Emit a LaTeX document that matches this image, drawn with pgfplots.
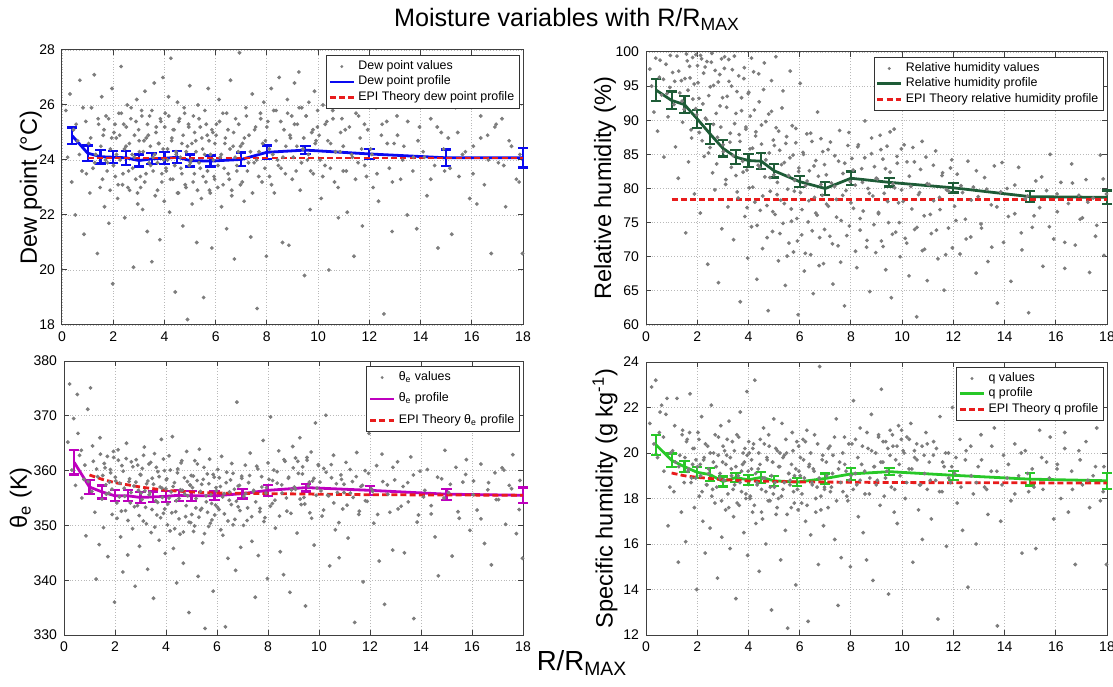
\documentclass[border=0pt]{standalone}
\usepackage{fontspec}
\setmainfont{Liberation Sans}
\usepackage{pgfplots}
\usepackage{pgfplotstable}
\pgfplotsset{compat=1.18}

\definecolor{dotgray}{RGB}{125,125,125}
\definecolor{dewblue}{RGB}{10,10,240}
\definecolor{rhgreen}{RGB}{30,92,55}
\definecolor{temag}{RGB}{190,0,190}
\definecolor{qgreen}{RGB}{40,200,40}
\definecolor{epired}{RGB}{232,28,28}

% scattered observations: x = R/Rmax, dew point, RH, theta_e, q
\pgfplotstableread{
x td rh te q
0.15 25.8 97.5 365.2 21.3
0.22 24.1 95.0 375.8 22.9
0.31 26.4 91.2 360.1 20.4
0.38 23.2 99.1 369.5 23.2
0.45 25.1 88.4 357.3 19.8
0.52 22.0 96.3 373.9 20.9
0.61 24.7 93.7 362.8 22.1
0.70 26.9 84.6 355.0 19.2
0.78 23.6 98.2 358.4 21.7
0.86 21.3 90.5 348.1 16.8
0.93 25.4 94.8 371.2 18.5
1.04 24.6 97.0 375.1 20.1
1.09 22.8 92.3 356.2 18.3
1.15 25.9 86.1 361.7 19.6
1.21 23.7 99.4 352.4 22.4
1.26 27.1 81.5 340.2 15.2
1.32 24.2 94.0 358.9 19.9
1.38 20.6 95.8 346.5 17.4
1.43 25.3 89.7 363.0 21.0
1.49 23.0 91.6 354.8 18.7
1.55 26.3 73.5 349.6 16.1
1.61 24.9 98.7 360.5 20.6
1.66 22.3 83.9 355.7 19.3
1.72 25.6 96.2 344.3 22.6
1.78 23.9 87.4 357.9 18.9
1.83 21.7 93.1 359.6 20.2
1.89 24.4 79.2 352.0 17.6
1.95 26.6 99.6 362.4 19.7
1.98 19.5 90.8 336.0 14.0
2.03 25.0 95.5 358.1 20.9
2.08 23.4 88.2 351.3 18.1
2.12 24.8 76.4 363.8 19.5
2.17 22.6 99.0 355.2 21.6
2.22 25.7 92.4 347.9 17.0
2.27 24.0 84.7 360.9 19.8
2.31 27.4 97.8 341.5 15.6
2.36 23.1 90.1 356.8 18.6
2.41 25.3 68.9 352.7 20.3
2.45 21.9 93.6 365.0 19.1
2.50 24.5 86.0 344.6 16.7
2.55 26.0 98.5 358.0 22.1
2.60 23.6 82.3 354.1 18.4
2.64 22.9 95.1 361.6 20.0
2.69 25.5 79.8 349.4 17.8
2.74 24.2 91.0 357.2 19.4
2.79 20.1 87.5 338.9 14.5
2.83 24.9 66.2 362.0 20.7
2.88 23.3 96.7 353.6 18.9
2.92 26.2 89.0 356.4 21.2
2.96 22.4 74.1 346.2 16.3
2.99 25.1 93.3 359.3 19.6
3.02 24.3 85.4 355.9 18.8
3.07 23.0 99.3 360.4 20.1
3.11 25.8 80.6 350.8 17.5
3.15 22.2 91.9 364.3 19.9
3.20 24.7 77.3 353.3 18.2
3.24 26.5 95.7 357.6 21.4
3.28 23.5 86.8 342.0 15.8
3.33 21.4 83.1 361.2 19.3
3.37 24.9 97.4 356.0 20.5
3.42 25.6 72.5 348.7 17.2
3.46 23.8 89.5 358.6 18.6
3.51 20.3 81.9 336.7 13.6
3.55 24.1 94.2 363.1 20.8
3.60 26.8 78.6 354.5 19.0
3.64 22.7 87.9 351.9 17.7
3.68 25.2 63.4 359.8 21.8
3.73 23.9 91.4 347.3 18.3
3.77 24.6 84.0 357.0 19.5
3.82 21.1 96.1 365.7 16.5
3.86 25.4 75.9 355.1 20.2
3.90 23.2 88.7 352.2 18.0
3.94 27.0 82.7 360.0 22.7
3.97 24.0 69.8 344.9 15.5
3.99 22.5 93.9 356.7 19.2
4.03 25.7 80.1 358.5 20.0
4.07 23.6 90.6 353.9 18.1
4.12 24.4 74.4 362.7 19.7
4.16 26.3 85.9 349.0 17.4
4.20 22.1 97.1 356.1 20.4
4.25 27.7 78.0 366.2 23.2
4.29 24.8 88.3 345.8 16.9
4.33 23.3 66.7 357.8 18.7
4.38 25.1 83.4 352.5 19.3
4.42 19.2 92.7 339.5 14.8
4.46 24.2 76.8 360.3 20.6
4.51 26.1 86.5 354.9 18.4
4.55 22.8 71.2 348.4 17.1
4.59 25.5 94.5 361.4 21.1
4.64 23.7 81.7 356.4 18.9
4.68 24.6 89.8 343.1 16.0
4.72 21.6 77.5 358.7 19.8
4.77 25.9 62.1 351.6 17.9
4.81 23.1 85.2 363.5 20.3
4.85 24.3 79.6 355.4 18.5
4.90 18.2 91.3 334.1 13.1
4.94 25.3 73.7 357.4 19.6
4.97 23.8 87.1 350.5 18.2
4.99 26.7 82.0 359.1 21.5
5.04 24.0 76.2 356.9 18.7
5.08 22.4 88.9 348.9 17.3
5.13 25.6 80.9 361.8 20.1
5.17 23.5 69.4 353.2 18.0
5.22 24.7 85.6 358.2 19.4
5.26 21.0 78.3 340.7 15.3
5.31 26.0 91.8 363.9 21.3
5.35 23.9 74.9 352.8 18.4
5.40 25.2 83.8 357.5 19.9
5.44 22.6 65.8 346.8 16.6
5.49 24.4 87.6 360.6 20.0
5.53 19.0 79.9 331.2 12.3
5.58 25.8 72.0 354.3 19.1
5.62 23.2 84.5 359.4 18.6
5.67 24.9 77.0 349.8 17.6
5.71 26.6 89.2 362.1 20.9
5.76 22.9 70.7 355.6 18.3
5.80 24.2 81.2 351.0 19.0
5.85 20.8 86.7 338.0 14.2
5.89 25.0 75.6 358.8 20.5
5.94 23.4 61.5 353.7 17.5
5.97 24.6 83.0 356.3 19.2
6.03 25.3 79.4 360.2 19.8
6.08 23.0 73.2 352.9 17.8
6.13 26.2 85.3 357.1 20.6
6.18 24.1 67.9 362.6 18.9
6.23 22.3 80.4 348.2 17.0
6.28 25.7 88.0 355.8 21.0
6.33 23.7 75.1 331.5 12.6
6.38 24.8 82.6 359.7 19.5
6.43 21.5 70.3 344.0 16.4
6.48 25.1 86.9 354.6 18.7
6.53 23.3 64.6 358.3 19.3
6.58 26.9 78.7 361.3 20.8
6.63 22.7 84.1 350.1 17.4
6.68 24.5 76.1 356.6 18.5
6.73 20.4 81.8 341.8 15.1
6.78 25.5 72.8 372.5 23.8
6.83 23.8 87.3 353.4 18.1
6.88 24.3 79.0 357.3 19.7
6.93 27.9 69.0 346.0 16.8
6.97 23.1 83.5 359.0 18.4
7.05 24.6 77.7 355.3 19.0
7.11 22.5 85.7 361.0 17.6
7.18 25.9 73.0 350.9 20.3
7.24 23.6 80.8 357.8 18.5
7.30 24.9 66.0 363.2 19.9
7.37 21.2 84.8 347.1 16.2
7.43 26.4 78.4 356.2 21.5
7.50 23.9 71.6 336.9 13.3
7.56 25.2 88.5 360.8 19.6
7.62 18.6 75.3 344.5 15.4
7.69 24.3 82.2 353.1 18.3
7.75 25.7 62.8 358.9 20.7
7.81 23.2 79.7 365.5 19.2
7.88 26.1 86.3 351.4 17.9
7.94 24.7 74.5 356.9 18.8
7.98 20.5 81.0 340.3 15.0
8.04 25.4 84.4 358.4 20.4
8.10 23.4 77.1 369.8 22.3
8.17 26.6 80.5 354.0 19.1
8.23 24.2 68.4 360.1 18.6
8.29 22.8 86.4 349.5 17.2
8.36 25.8 73.9 357.7 21.1
8.42 24.0 82.9 363.6 19.5
8.48 27.0 76.7 345.2 16.5
8.55 23.7 89.9 355.9 18.2
8.61 21.0 71.4 341.0 15.3
8.67 25.1 80.0 361.7 20.2
8.74 24.5 64.9 352.6 18.9
8.80 26.2 85.1 358.6 21.7
8.86 20.9 78.9 337.8 14.4
8.92 24.8 83.2 356.5 19.4
8.97 25.6 70.6 364.4 20.0
9.03 24.1 81.4 357.0 18.8
9.08 26.8 76.5 362.3 20.8
9.14 23.6 87.8 348.6 17.7
9.19 25.3 72.3 359.5 22.8
9.25 27.2 84.3 366.0 19.6
9.30 22.9 79.3 353.8 18.1
9.36 25.9 68.1 360.7 20.5
9.41 24.4 86.2 355.1 19.2
9.47 19.8 75.0 335.3 13.8
9.53 25.6 82.4 361.9 21.0
9.58 24.0 64.0 357.2 18.5
9.64 26.1 80.7 352.3 20.3
9.69 22.2 88.7 363.4 17.4
9.75 25.0 73.6 358.1 19.7
9.81 23.5 83.7 346.4 16.9
9.86 26.5 77.9 368.7 21.2
9.92 24.7 70.0 356.8 19.0
9.97 25.2 85.8 361.1 20.6
10.04 24.9 78.1 357.9 20.1
10.12 22.6 72.7 351.7 18.0
10.19 26.0 83.9 360.4 20.7
10.27 23.8 67.2 370.1 19.3
10.34 25.4 80.3 355.5 21.3
10.42 20.0 86.0 342.6 15.2
10.49 24.6 74.0 358.7 19.8
10.57 25.8 61.2 362.8 20.4
10.64 23.2 79.1 349.2 17.5
10.72 26.3 82.8 356.0 18.6
10.79 21.9 70.9 344.1 16.2
10.86 24.3 76.0 359.2 19.9
10.93 25.5 84.6 353.0 20.9
10.98 23.6 66.5 357.5 18.4
11.06 25.1 80.6 361.5 19.6
11.14 22.1 73.4 347.7 17.1
11.23 26.4 78.2 355.9 20.5
11.31 24.2 85.5 358.0 18.8
11.40 20.5 69.7 332.3 12.7
11.48 25.7 76.9 363.3 21.6
11.56 23.9 81.9 352.0 18.3
11.64 24.8 65.1 357.1 19.4
11.73 21.6 79.8 339.7 15.9
11.81 25.3 74.2 360.0 20.0
11.89 23.4 83.0 354.4 18.7
11.96 26.7 71.3 366.8 22.0
12.05 24.4 77.4 356.7 19.1
12.15 23.0 82.1 350.4 17.8
12.26 25.9 70.4 360.9 20.6
12.36 22.5 79.4 343.5 16.6
12.47 24.9 75.5 363.0 19.7
12.57 18.4 84.0 335.6 14.1
12.68 25.4 72.9 357.4 20.3
12.78 23.7 80.2 352.4 18.2
12.89 21.4 67.6 345.5 16.0
12.97 24.6 78.8 358.3 19.4
13.08 25.6 74.8 361.6 20.8
13.22 23.3 81.6 353.5 18.5
13.35 24.5 69.3 345.0 17.3
13.48 22.0 77.6 357.8 19.2
13.60 26.0 83.3 362.5 21.1
13.72 24.1 63.2 333.0 12.4
13.85 21.5 79.5 350.6 17.0
13.96 25.2 72.1 359.9 19.9
14.10 24.3 80.0 355.2 18.9
14.25 22.7 66.4 360.2 17.9
14.40 25.5 76.3 352.1 20.4
14.55 23.8 83.1 347.9 19.0
14.68 20.8 71.0 340.8 15.6
14.81 25.0 78.5 358.5 20.1
14.94 23.6 61.8 363.7 18.3
15.08 24.8 74.3 356.0 19.3
15.22 21.3 81.1 344.4 15.8
15.37 25.9 77.2 360.6 21.0
15.50 23.4 68.6 351.3 18.4
15.64 24.2 79.7 357.9 19.6
15.78 26.2 85.0 362.0 20.7
15.92 22.6 72.6 349.1 17.1
16.06 24.5 76.6 358.1 19.5
16.20 22.4 80.9 352.8 18.0
16.35 25.6 68.3 361.2 20.9
16.49 23.1 77.8 346.7 17.4
16.62 24.9 83.6 356.5 19.2
16.76 20.6 71.7 342.8 15.1
16.90 25.2 79.0 359.6 20.1
17.04 23.9 75.7 354.7 18.6
17.18 25.5 81.3 360.5 20.5
17.32 22.3 67.7 350.2 17.6
17.46 24.7 78.6 357.3 19.0
17.60 26.1 74.6 362.9 21.1
17.74 23.3 84.9 348.5 17.9
17.88 24.2 70.2 358.2 19.4
17.98 20.6 79.2 344.0 15.1
}\scat

% second batch, mostly the dense core of each cloud
\pgfplotstableread{
x td rh te q
0.55 25.3 98.8 366.8 21.8
0.68 24.2 96.0 363.7 20.7
0.82 25.9 93.9 361.0 22.4
0.95 23.5 99.5 358.0 20.0
1.12 24.8 95.7 364.5 21.2
1.28 23.9 97.2 360.3 19.4
1.41 25.5 92.8 366.0 20.8
1.52 24.5 96.1 359.1 19.8
1.58 23.3 99.7 361.3 20.5
1.64 25.1 94.4 357.4 19.2
1.70 24.0 97.9 362.6 20.9
1.76 23.6 88.6 355.9 18.7
1.82 25.5 99.2 360.2 19.5
1.88 22.9 95.3 356.6 20.2
1.94 24.8 91.7 363.5 18.9
2.01 23.8 98.0 358.8 19.4
2.07 25.3 93.2 354.1 20.6
2.13 24.2 99.5 361.9 19.0
2.19 23.1 87.0 357.7 18.3
2.25 24.9 96.9 352.6 19.7
2.32 25.7 90.3 359.9 20.4
2.38 23.5 98.6 355.3 18.6
2.44 24.4 85.2 362.2 19.3
2.51 25.2 94.9 350.9 20.0
2.57 23.0 99.8 358.5 18.1
2.63 24.6 89.4 356.0 19.6
2.70 25.9 97.3 360.7 20.8
2.76 23.7 83.6 353.4 18.5
2.82 24.1 95.6 357.9 19.9
2.89 25.4 92.1 361.0 19.1
2.95 22.8 99.0 351.8 17.9
3.01 24.7 86.4 359.2 20.3
3.06 23.4 97.6 354.7 18.8
3.12 25.6 81.3 362.8 19.5
3.17 24.3 93.5 356.3 20.6
3.23 23.2 98.9 350.3 17.6
3.29 24.8 88.1 358.1 19.8
3.34 25.3 95.0 355.6 19.0
3.40 23.9 84.8 361.5 18.4
3.45 24.5 99.4 352.9 20.1
3.51 25.8 91.0 357.5 19.4
3.56 23.6 79.5 349.7 17.8
3.62 24.2 96.5 360.6 20.7
3.67 25.0 86.9 354.2 18.7
3.73 22.9 93.3 358.9 19.2
3.79 24.6 82.4 351.4 20.0
3.84 25.5 97.7 356.8 19.6
3.90 23.5 89.0 362.1 18.2
3.95 24.4 77.2 353.0 19.9
4.01 25.2 94.1 358.3 20.5
4.06 23.7 85.8 350.1 18.0
4.12 24.0 99.1 355.0 19.3
4.17 25.6 80.2 360.1 20.2
4.23 23.3 91.5 352.3 17.7
4.28 24.7 87.7 357.1 19.1
4.34 25.1 74.6 349.4 18.6
4.40 23.8 96.8 354.5 20.0
4.45 24.3 83.1 359.6 19.5
4.51 22.8 89.3 351.2 17.4
4.56 25.4 78.9 356.5 18.9
4.62 24.1 98.4 361.8 20.4
4.68 23.5 84.2 348.8 18.3
4.73 24.9 72.8 355.7 19.7
4.79 25.7 90.9 353.6 20.8
4.84 23.0 81.6 358.0 17.9
4.90 24.5 95.8 350.6 19.0
4.95 25.2 76.6 357.3 19.6
5.01 23.9 86.3 352.0 18.5
5.07 24.6 99.3 359.0 20.2
5.12 23.2 79.1 349.9 17.6
5.18 25.0 88.4 354.9 19.4
5.23 24.3 73.4 361.2 20.0
5.29 22.9 83.5 351.5 18.1
5.35 25.5 94.3 356.2 19.8
5.40 23.7 77.8 353.1 18.7
5.46 24.8 86.6 358.4 20.6
5.51 23.4 70.1 348.5 17.3
5.57 24.2 81.9 355.4 19.1
5.63 25.3 97.2 352.4 18.8
5.68 23.6 75.2 357.6 19.5
5.74 24.7 84.9 350.4 20.1
5.79 22.8 79.6 354.0 17.8
5.85 25.1 88.8 359.3 19.3
5.91 24.0 72.3 351.9 18.4
5.96 23.3 82.5 356.9 20.3
6.02 24.9 95.4 353.3 19.0
6.09 23.8 76.9 358.7 18.2
6.15 25.4 85.0 349.2 19.7
6.22 24.2 70.5 355.2 20.5
6.29 23.1 81.1 352.1 17.7
6.36 24.6 78.2 357.8 19.4
6.43 25.7 88.1 350.8 20.0
6.49 23.5 73.8 356.1 18.6
6.56 24.4 83.3 353.8 19.2
6.63 22.9 76.4 359.5 18.0
6.70 25.0 91.2 351.1 20.4
6.76 24.1 68.7 354.4 18.9
6.83 23.6 80.6 357.2 17.5
6.90 25.3 85.4 352.7 19.9
6.97 24.5 74.0 358.6 18.5
7.04 23.2 82.0 350.0 19.6
7.12 24.8 77.4 355.8 20.2
7.20 25.6 86.8 353.2 18.3
7.28 23.9 71.9 359.1 19.1
7.36 24.3 80.3 351.6 20.7
7.44 22.8 75.8 356.4 17.9
7.52 25.1 84.0 354.3 19.3
7.60 24.0 69.2 360.3 18.7
7.68 23.4 79.0 352.5 20.0
7.76 25.5 83.7 357.0 19.5
7.84 24.6 73.1 350.7 18.1
7.92 23.7 88.2 355.9 20.4
8.00 25.2 77.9 361.4 19.0
8.09 24.4 82.7 353.5 18.4
8.18 23.1 70.8 358.2 20.6
8.27 25.8 86.1 354.6 19.8
8.36 24.7 75.6 359.8 18.8
8.45 23.8 80.9 351.7 20.3
8.54 25.4 84.5 357.4 19.2
8.63 24.1 72.4 362.0 20.9
8.72 23.5 79.3 355.0 18.2
8.81 25.7 87.4 358.8 20.1
8.90 24.9 74.7 352.2 19.4
8.99 23.3 81.5 360.5 18.6
9.08 25.3 76.3 356.6 20.7
9.17 24.5 85.7 361.7 19.6
9.26 25.9 71.5 354.8 20.5
9.35 23.9 82.9 359.4 18.9
9.44 24.8 78.1 353.9 20.2
9.53 25.6 88.3 362.4 19.9
9.62 24.2 73.3 357.9 20.8
9.71 23.6 80.1 351.3 18.4
9.80 25.1 84.7 358.6 20.3
9.89 24.6 75.0 355.5 19.5
9.98 25.8 79.8 360.9 21.0
10.08 24.0 86.4 356.3 20.0
10.18 23.4 72.0 352.8 18.7
10.28 25.3 81.8 359.7 20.6
10.38 24.7 77.0 355.4 19.3
10.48 23.7 83.9 361.1 20.1
10.58 25.5 74.3 354.1 19.7
10.68 24.3 79.4 357.6 18.6
10.78 23.0 86.9 350.5 20.3
10.88 25.0 71.1 358.4 19.1
10.98 24.5 80.7 356.0 20.4
11.10 23.6 76.2 353.7 18.8
11.22 25.2 83.4 360.2 19.9
11.34 24.1 73.9 355.1 20.2
11.46 23.3 78.7 358.9 18.3
11.58 25.6 82.3 352.6 19.6
11.70 24.4 70.3 357.3 20.0
11.82 23.8 79.6 354.5 18.9
11.94 25.1 84.2 359.5 19.4
12.10 24.2 75.3 356.2 19.8
12.30 23.5 80.4 352.0 18.5
12.50 25.3 72.6 358.0 20.1
12.70 24.6 78.3 355.7 19.0
12.90 23.2 82.6 360.6 18.7
13.10 24.9 74.2 353.0 19.7
13.30 24.0 79.9 357.1 18.4
13.50 25.4 71.4 354.3 20.3
13.70 23.6 77.3 359.2 19.2
13.90 24.7 83.8 351.9 18.6
14.15 24.1 75.9 356.4 19.5
14.40 23.3 80.5 353.6 18.2
14.65 25.2 73.5 358.8 20.0
14.90 24.4 78.9 355.0 19.1
15.15 23.7 76.0 357.5 18.5
15.45 25.0 81.7 352.5 19.8
15.75 24.3 74.4 359.3 18.9
16.05 23.5 79.2 355.6 19.3
16.35 24.8 72.1 351.2 20.2
16.65 24.0 80.8 357.8 18.4
16.95 25.3 75.5 354.7 19.7
17.25 23.8 78.0 360.1 18.8
17.55 24.5 73.0 356.7 19.4
17.85 23.2 81.4 352.9 18.3
}\scatb

% binned profiles: x, mean, error half-width
\pgfplotstableread{
x y e
0.4 24.88 0.30
1.0 24.25 0.28
1.5 24.12 0.25
2.0 24.10 0.22
2.5 24.08 0.25
3.0 23.98 0.22
3.5 24.04 0.20
4.0 24.06 0.22
4.5 24.10 0.22
5.0 23.98 0.22
5.8 23.96 0.20
7.0 24.02 0.25
8.0 24.28 0.25
9.5 24.36 0.15
12.0 24.22 0.18
15.0 24.08 0.30
18.0 24.08 0.35
}\dewprof

\pgfplotstableread{
x y e
0.4 94.4 1.6
1.0 92.9 1.3
1.5 92.3 1.2
2.0 90.2 1.3
2.5 88.0 1.5
3.0 85.9 1.2
3.5 84.6 1.0
4.0 84.1 1.0
4.5 84.0 1.2
5.0 82.6 1.0
6.0 81.0 0.8
7.0 80.0 1.0
8.0 81.5 1.0
9.5 80.9 0.6
12.0 80.1 0.7
15.0 78.8 0.8
18.0 78.7 1.0
}\rhprof

\pgfplotstableread{
x y e
0.4 361.5 2.2
1.0 357.0 1.3
1.5 356.1 1.2
2.0 355.4 1.0
2.5 355.4 1.0
3.0 355.1 1.0
3.5 355.2 1.0
4.0 355.3 1.0
4.5 355.5 1.0
5.0 355.4 0.9
5.9 355.4 0.8
7.0 355.8 0.9
8.0 356.4 1.0
9.5 356.9 0.7
12.0 356.4 0.8
15.0 355.7 1.0
18.0 355.5 1.4
}\teprof

\pgfplotstableread{
x y e
0.4 20.35 0.45
1.0 19.68 0.30
1.5 19.40 0.25
2.0 19.15 0.25
2.5 19.05 0.28
3.0 18.75 0.22
3.5 18.92 0.20
4.0 18.82 0.22
4.5 18.93 0.25
5.0 18.78 0.22
5.9 18.72 0.18
7.0 18.88 0.22
8.0 19.08 0.25
9.5 19.18 0.15
12.0 19.02 0.20
15.0 18.85 0.28
18.0 18.78 0.35
}\qprof

\pgfplotsset{
  panel/.style={
    scale only axis, width=230.5pt, height=137pt, anchor=south west,
    xmin=0, xmax=18, xtick={0,2,...,18}, clip=false,
    grid=major, grid style={densely dotted, gray!55, line width=0.4pt},
    axis line style={black!75, line width=0.5pt},
    tick style={black!75, line width=0.5pt},
    major tick length=2.5pt,
    tick label style={font=\fontsize{7}{8}\selectfont},
    ylabel style={font=\fontsize{11.8}{14}\selectfont, anchor=center},
    /pgf/number format/assume math mode=true,
    legend cell align=left,
    legend image code/.code={\draw[##1] (0pt,0pt) -- (12pt,0pt);},
    legend style={font=\fontsize{6.2}{7}\selectfont, draw=black!80, fill=white,
      at={(0.993,0.982)}, anchor=north east, inner sep=1pt,
      row sep=-1.5pt, nodes={inner sep=1.6pt}},
  },
  dots/.style={only marks, mark=*, mark size=0.75pt, color=dotgray,
    legend image code/.code={\fill[dotgray] (6pt,0pt) circle (0.5pt);}},
  prof/.style={color=#1, line width=1.4pt, mark=none,
    error bars/.cd, y dir=both, y explicit,
    error bar style={line width=1.1pt, color=#1},
    error mark options={rotate=90, mark size=2.6pt, line width=1.1pt, color=#1}},
  epi/.style={color=epired, line width=1.4pt, dash pattern=on 3pt off 1.6pt},
}

\begin{document}
\begin{tikzpicture}
\useasboundingbox (0,0) rectangle (556.5pt,343pt);

\node[font=\fontsize{12.6}{14}\selectfont] at (283.5pt,333.5pt)
  {Moisture variables with R/R\textsubscript{MAX}};
\node[font=\fontsize{13.8}{16}\selectfont] at (291pt,11.5pt)
  {R/R\textsubscript{MAX}};

% dew point
\begin{axis}[panel, at={(31pt,180.5pt)}, height=137.5pt,
  ymin=18, ymax=28, ytick={18,20,...,28},
  ylabel={Dew point (°C)},
  ylabel style={at={(axis description cs:-0.068,0.5)}}]
\addplot[dots] table[x=x, y=td] {\scat};
\addlegendentry{Dew point values}
\addplot[dots, forget plot] table[x=x, y=td] {\scatb};
\addplot[prof=dewblue] table[x=x, y=y, y error=e] {\dewprof};
\addlegendentry{Dew point profile}
\addplot[epi] coordinates {(1,24.07) (18,24.07)};
\addlegendentry{EPI Theory dew point profile}
\end{axis}

% relative humidity
\begin{axis}[panel, at={(323pt,180.5pt)}, height=136.5pt,
  ymin=60, ymax=100, ytick={60,65,...,100},
  ylabel={Relative humidity (\%)},
  ylabel style={at={(axis description cs:-0.089,0.5)}}]
\addplot[dots] table[x=x, y=rh] {\scat};
\addlegendentry{Relative humidity values}
\addplot[dots, forget plot] table[x=x, y=rh] {\scatb};
\addplot[prof=rhgreen] table[x=x, y=y, y error=e] {\rhprof};
\addlegendentry{Relative humidity profile}
\addplot[epi] coordinates {(1,78.4) (18,78.4)};
\addlegendentry{EPI Theory relative humidity profile}
\end{axis}

% theta_e
\begin{axis}[panel, at={(32pt,25.5pt)}, width=229.5pt,
  ymin=330, ymax=380, ytick={330,340,...,380},
  ylabel={θ\textsubscript{e} (K)},
  ylabel style={at={(axis description cs:-0.094,0.5)}},
  legend style={row sep=1.5pt}]
\addplot[dots] table[x=x, y=te] {\scat};
\addlegendentry{θ\textsubscript{e} values}
\addplot[dots, forget plot] table[x=x, y=te] {\scatb};
\addplot[prof=temag] table[x=x, y=y, y error=e] {\teprof};
\addlegendentry{θ\textsubscript{e} profile}
\addplot[epi] coordinates {(1,359.2) (1.5,358.4) (2,357.8) (3,357.0) (4,356.4)
  (5,356.1) (6,355.9) (8,355.8) (10,355.7) (12,355.6) (18,355.5)};
\addlegendentry{EPI Theory θ\textsubscript{e} profile}
\end{axis}

% specific humidity
\begin{axis}[panel, at={(323pt,25.5pt)}, height=136.5pt,
  ymin=12, ymax=24, ytick={12,14,...,24},
  ylabel={Specific humidity (g kg\textsuperscript{-1})},
  ylabel style={at={(axis description cs:-0.089,0.5)}}]
\addplot[dots] table[x=x, y=q] {\scat};
\addlegendentry{q values}
\addplot[dots, forget plot] table[x=x, y=q] {\scatb};
\addplot[prof=qgreen] table[x=x, y=y, y error=e] {\qprof};
\addlegendentry{q profile}
\addplot[epi] coordinates {(1,19.12) (1.5,19.0) (2,18.93) (3,18.83) (4,18.77)
  (6,18.73) (10,18.70) (18,18.68)};
\addlegendentry{EPI Theory q profile}
\end{axis}
\end{tikzpicture}
\end{document}
